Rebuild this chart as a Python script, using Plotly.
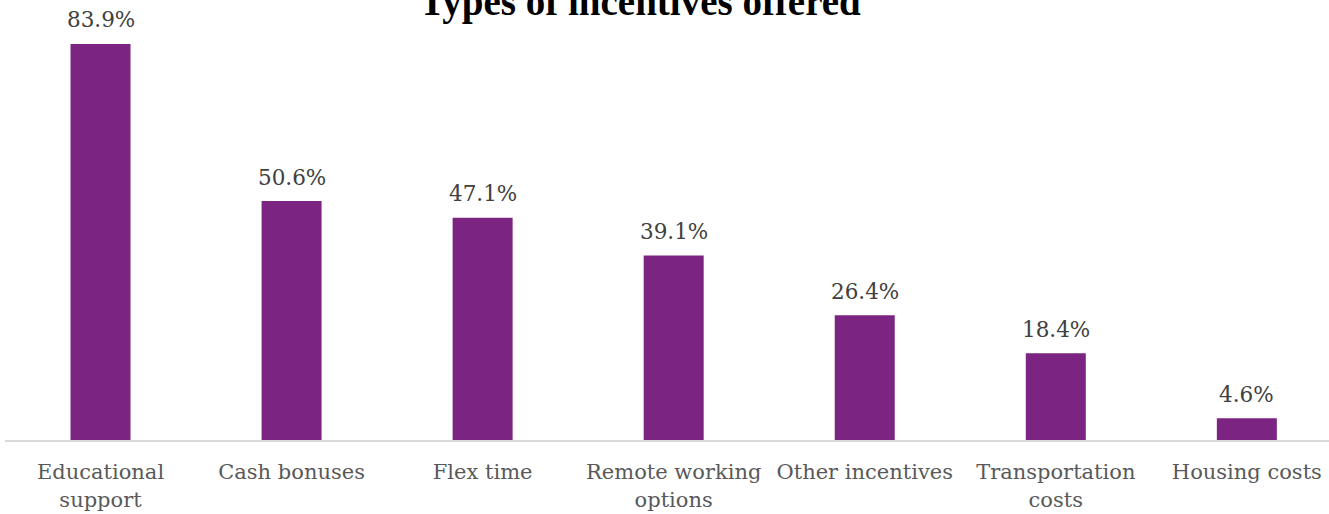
import plotly.graph_objects as go

categories = ["Educational<br>support", "Cash bonuses", "Flex time", "Remote working<br>options",
              "Other incentives", "Transportation<br>costs", "Housing costs"]
values = [83.9, 50.6, 47.1, 39.1, 26.4, 18.4, 4.6]
labels = ["83.9%", "50.6%", "47.1%", "39.1%", "26.4%", "18.4%", "4.6%"]

serif = "Georgia, 'DejaVu Serif', serif"

fig = go.Figure(go.Bar(
    x=categories, y=values,
    marker=dict(color="#7B2482", line=dict(width=0)),
    cliponaxis=False, width=0.314, hoverinfo="x+y",
))

for c, v, t in zip(categories, values, labels):
    fig.add_annotation(x=c, y=v, text=t, showarrow=False, yanchor="middle", yshift=24,
                       font=dict(family=serif, size=21.5, color="#404040"))

fig.update_layout(
    width=1329, height=514,
    margin=dict(l=5, r=0, t=0, b=74),
    paper_bgcolor="white", plot_bgcolor="white",
    showlegend=False,
    title=dict(text="<b>Types of incentives offered</b>", x=640/1329, xanchor="center",
               y=1 - 1/514, yanchor="middle", yref="container",
               font=dict(family="'Liberation Serif', 'Times New Roman', serif", size=39, color="black")),
    xaxis=dict(range=[-0.5, 6.43], showline=True, linecolor="#D9D9D9", linewidth=2,
               ticks="", tickfont=dict(family=serif, size=21, color="#595959"),
               ticklabelstandoff=12, fixedrange=True),
    yaxis=dict(range=[0, 93.2], showgrid=False, showticklabels=False, zeroline=False,
               showline=False, ticks=""),
)

fig.write_html("out.html")
